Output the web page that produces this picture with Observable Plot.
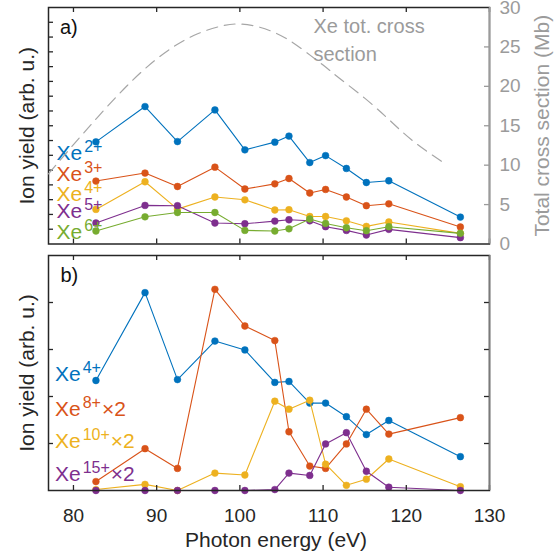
<!DOCTYPE html>
<html><head><meta charset="utf-8">
<script src="https://cdn.jsdelivr.net/npm/d3@7"></script>
<script src="https://cdn.jsdelivr.net/npm/@observablehq/plot@0.6"></script>
<style>
html,body{margin:0;padding:0;background:#fff;}
#chart{position:relative;width:556px;height:553px;overflow:hidden;background:#fff;}
#chart svg{position:absolute;left:0;top:0;}
</style></head><body><div id="chart"></div>
<script>
// ---------- data ----------
const energy = [82.7, 88.6, 92.5, 97.0, 100.6, 104.2, 105.9, 108.4, 110.3, 112.8, 115.2, 117.9, 126.5];

// panel a (arb. units)
const xe2 = [6.91, 9.30, 6.93, 9.07, 6.37, 6.89, 7.30, 5.51, 5.98, 5.11, 4.16, 4.28, 1.82];
const xe3 = [4.26, 4.80, 3.89, 5.20, 3.72, 4.07, 4.43, 3.45, 3.69, 3.18, 2.59, 2.72, 1.15];
const xe4 = [2.34, 4.21, 2.36, 3.18, 2.99, 2.30, 2.32, 1.86, 1.86, 1.57, 1.19, 1.49, 0.72];
const xe5 = [1.42, 2.61, 2.59, 1.42, 1.37, 1.55, 1.64, 1.57, 1.17, 0.92, 0.61, 0.99, 0.43];
const xe6 = [0.88, 1.84, 2.13, 2.13, 0.92, 0.88, 1.03, 1.69, 1.39, 1.10, 0.90, 1.17, 0.72];

// panel b (arb. units)
const xe8x2  = [0.19, 0.89, 0.47, 4.28, 3.50, 3.19, 1.25, 0.52, 0.47, 0.99, 1.73, 1.20, 1.55];
const xe10x2 = [0.02, 0.13, 0.00, 0.37, 0.33, 1.90, 1.73, 1.92, 0.56, 0.11, 0.24, 0.67, 0.08];
const xe15x2 = [0.00, 0.00, 0.00, 0.00, 0.00, 0.02, 0.37, 0.32, 0.99, 1.23, 0.41, 0.07, 0.00];

// Xe total cross section (Mb)
const csEnergy = [77, 80, 83, 86, 89, 92, 95, 98, 100, 102, 104, 106, 108, 110, 112, 115, 118, 121, 124.8];
const csMb     = [8.9, 12.6, 16.2, 19.6, 22.6, 25.0, 26.7, 27.7, 27.9, 27.6, 26.9, 25.8, 24.3, 22.7, 21.0, 18.5, 15.7, 12.9, 10.1];

// axes
const xDomain = [77, 130];
const xTicks = [80, 90, 100, 110, 120, 130];
const yDomainA = [0, 16];
const yTicksA = d3.range(1, 16);
const yDomainB = [0, 5];
const yTicksB = [1, 2, 3, 4];
const csDomain = [0, 30];
const csTicks = [0, 5, 10, 15, 20, 25, 30];
const csInnerTicks = [5, 10, 15, 20, 25];

// labels
const labelsA = ["Xe|2+", "Xe|3+", "Xe|4+", "Xe|5+", "Xe|6+"];
const labelsB = ["Xe|4+", "Xe|8+|×2", "Xe|10+|×2", "Xe|15+|×2"];

// ---------- styling ----------
const C = {blue:"#0072BD", orange:"#D95319", yellow:"#EDB120", purple:"#7E2F8E", green:"#77AC30"};
const axisColor = "#262626";
const gray = "#9b9b9b";
const font = "'Liberation Sans', Arial, Helvetica, sans-serif";
const W = 556, H = 553;
const mL = 48, mR = 67;
const FW = W - mL - mR;
const A = {top: 7, bottom: H - 243.5};
const B = {top: 255, bottom: H - 490};
const AH = H - A.top - A.bottom, BH = H - B.top - B.bottom;
const TL = 5; // inward tick length

const chart = document.getElementById("chart");

function pts(values) { return energy.map((e, i) => ({e, v: values[i]})); }
function seriesMarks(values, color) {
  const d = pts(values);
  return [
    Plot.line(d, {x: "e", y: "v", stroke: color, strokeWidth: 1.1}),
    Plot.dot(d, {x: "e", y: "v", fill: color, stroke: color, strokeWidth: 0.5, r: 3.4})
  ];
}
function boxTicks(yTicks, fh, withRight) {
  const m = [
    Plot.tickX(xTicks, {x: d => d, stroke: axisColor, strokeWidth: 1.3, insetTop: fh - TL}),
    Plot.tickX(xTicks, {x: d => d, stroke: axisColor, strokeWidth: 1.3, insetBottom: fh - TL}),
    Plot.tickY(yTicks, {y: d => d, stroke: axisColor, strokeWidth: 1.3, insetRight: FW - TL})
  ];
  if (withRight) m.push(Plot.tickY(yTicks, {y: d => d, stroke: axisColor, strokeWidth: 1.3, insetLeft: FW - TL}));
  return m;
}
function legend(labels, colors, dys, dx) {
  return labels.map((t, i) => Plot.text([t], {
    text: d => d, frameAnchor: "bottom-left", textAnchor: "start", lineAnchor: "bottom",
    dx, dy: dys[i], fill: colors[i], fontSize: 21
  }));
}
function richify(svg) {
  d3.select(svg).selectAll("text").each(function () {
    const t = this.textContent;
    if (!t.includes("|")) return;
    const [base, sup, suffix] = t.split("|");
    const s = d3.select(this);
    s.text(null);
    s.append("tspan").text(base);
    s.append("tspan").attr("font-size", 16).attr("dx", 2).attr("dy", -8).text(sup);
    if (suffix) s.append("tspan").attr("font-size", 21).attr("dx", 1).attr("dy", 8).text(suffix);
  });
}
const baseStyle = {background: "transparent", fontFamily: font, fontSize: "19px", color: axisColor, overflow: "visible"};

// ---------- panel a: ion yields ----------
const svgA = Plot.plot({
  width: W, height: H, marginLeft: mL, marginRight: mR, marginTop: A.top, marginBottom: A.bottom,
  style: baseStyle,
  x: {domain: xDomain, axis: null},
  y: {domain: yDomainA, axis: null},
  marks: [
    ...seriesMarks(xe2, C.blue),
    ...seriesMarks(xe3, C.orange),
    ...seriesMarks(xe4, C.yellow),
    ...seriesMarks(xe5, C.purple),
    ...seriesMarks(xe6, C.green),
    ...boxTicks(yTicksA, AH, false),
    Plot.frame({stroke: axisColor, strokeWidth: 1.5}),
    ...legend(labelsA, [C.blue, C.orange, C.yellow, C.purple, C.green], [-84, -63.5, -42.8, -26, -5.2], 8),
    Plot.text(["a)"], {frameAnchor: "top-left", textAnchor: "start", lineAnchor: "bottom", dx: 11.5, dy: 26.3, fontSize: 20, fill: "#111"}),
    Plot.text(["Ion yield (arb. u.)"], {frameAnchor: "left", textAnchor: "middle", rotate: -90, lineAnchor: "middle", dx: -21.4, fontSize: 21, fill: axisColor})
  ]
});
richify(svgA);
chart.appendChild(svgA);

// ---------- panel a: cross section on right axis ----------
const csData = csEnergy.map((e, i) => ({e, v: csMb[i]}));
const svgC = Plot.plot({
  width: W, height: H, marginLeft: mL, marginRight: mR, marginTop: A.top, marginBottom: A.bottom,
  style: baseStyle,
  x: {domain: xDomain, axis: null},
  y: {domain: csDomain, axis: null},
  marks: [
    Plot.line(csData, {x: "e", y: "v", curve: "natural", stroke: "#a6a6a6", strokeWidth: 1.2, strokeDasharray: "11,7"}),
    Plot.ruleX([xDomain[1]], {stroke: gray, strokeWidth: 1.5}),
    Plot.tickY(csInnerTicks, {y: d => d, stroke: gray, strokeWidth: 1.3, insetLeft: FW - TL}),
    Plot.axisY({anchor: "right", ticks: csTicks, tickSize: 0, tickPadding: 10, color: gray, fontSize: 19, label: null}),
    Plot.text(["Xe tot. cross\nsection"], {frameAnchor: "top-right", textAnchor: "start", lineAnchor: "top", dx: -176, dy: 6, fontSize: 20, lineHeight: 1.38, fill: gray}),
    Plot.text(["Total cross section (Mb)"], {frameAnchor: "right", textAnchor: "middle", rotate: -90, lineAnchor: "middle", dx: 53, fontSize: 21, fill: gray})
  ]
});
chart.appendChild(svgC);

// ---------- panel b ----------
const svgB = Plot.plot({
  width: W, height: H, marginLeft: mL, marginRight: mR, marginTop: B.top, marginBottom: B.bottom,
  style: baseStyle,
  x: {domain: xDomain},
  y: {domain: yDomainB, axis: null},
  marks: [
    ...seriesMarks(xe4, C.blue),
    ...seriesMarks(xe8x2, C.orange),
    ...seriesMarks(xe10x2, C.yellow),
    ...seriesMarks(xe15x2, C.purple),
    ...boxTicks(yTicksB, BH, true),
    Plot.frame({stroke: axisColor, strokeWidth: 1.5}),
    Plot.ruleX([xDomain[1]], {stroke: "#7a7a7a", strokeWidth: 1.5}),
    Plot.axisX({ticks: xTicks, tickSize: 0, tickPadding: 18, fontSize: 19, label: null, color: axisColor}),
    Plot.text(["Photon energy (eV)"], {frameAnchor: "bottom", textAnchor: "middle", lineAnchor: "bottom", dx: 7, dy: 56, fontSize: 21, fill: axisColor}),
    ...legend(labelsB, [C.blue, C.orange, C.yellow, C.purple], [-110, -75, -42.7, -10], 6.5),
    Plot.text(["b)"], {frameAnchor: "top-left", textAnchor: "start", lineAnchor: "bottom", dx: 12, dy: 26.5, fontSize: 20, fill: "#111"}),
    Plot.text(["Ion yield (arb. u.)"], {frameAnchor: "left", textAnchor: "middle", rotate: -90, lineAnchor: "middle", dx: -21.4, fontSize: 21, fill: axisColor})
  ]
});
richify(svgB);
chart.appendChild(svgB);
</script></body></html>
